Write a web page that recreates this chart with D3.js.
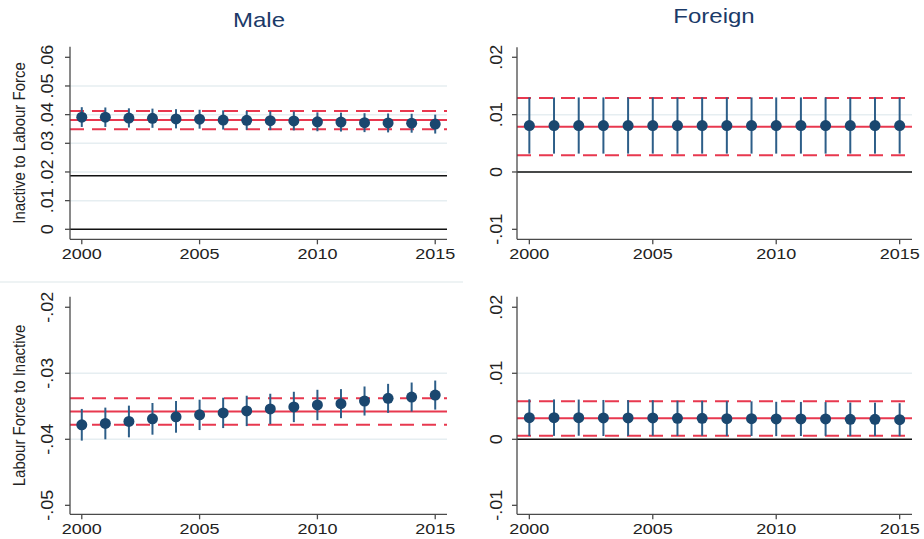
<!DOCTYPE html>
<html>
<head>
<meta charset="utf-8">
<script src="https://cdn.jsdelivr.net/npm/d3@7/dist/d3.min.js"></script>
<style>
  html, body { margin: 0; padding: 0; background: #ffffff; }
  svg { display: block; }
  text { font-family: "Liberation Sans", Arial, sans-serif; }
</style>
</head>
<body>
<svg id="chart" width="924" height="539"></svg>
<script>
// Event-study estimates by year with 95% confidence bounds
const years = [2000, 2001, 2002, 2003, 2004, 2005, 2006, 2007, 2008, 2009, 2010, 2011, 2012, 2013, 2014, 2015];
const xTicks = [2000, 2005, 2010, 2015];

const columnTitles = ["Male", "Foreign"];
const rowTitles = ["Inactive to Labour Force", "Labour Force to Inactive"];

// Inactive -> Labour Force, Male
const maleInEst = [0.0391, 0.0391, 0.0388, 0.0387, 0.0385, 0.0384, 0.0381, 0.0380, 0.0379, 0.0378, 0.0375, 0.0374, 0.0372, 0.0371, 0.0370, 0.0367];
const maleInHi  = [0.0426, 0.0425, 0.0422, 0.0421, 0.0419, 0.0417, 0.0415, 0.0413, 0.0412, 0.0411, 0.0408, 0.0407, 0.0405, 0.0404, 0.0403, 0.0400];
const maleInLo  = [0.0357, 0.0357, 0.0355, 0.0354, 0.0352, 0.0351, 0.0348, 0.0347, 0.0346, 0.0345, 0.0342, 0.0341, 0.0339, 0.0338, 0.0337, 0.0334];
const maleInBand = [0.0349, 0.0381, 0.0413];     // pooled estimate and its bounds
const maleInBlack = [0, 0.0187];
const maleInTicks = [0, 0.01, 0.02, 0.03, 0.04, 0.05, 0.06];

// Inactive -> Labour Force, Foreign
const foreignInEst = [0.0081, 0.0081, 0.0081, 0.0081, 0.0081, 0.0081, 0.0081, 0.0081, 0.0081, 0.0081, 0.0081, 0.0081, 0.0081, 0.0081, 0.0081, 0.0081];
const foreignInHi  = [0.0130, 0.0130, 0.0130, 0.0130, 0.0130, 0.0130, 0.0130, 0.0130, 0.0130, 0.0130, 0.0130, 0.0130, 0.0130, 0.0130, 0.0130, 0.0130];
const foreignInLo  = [0.0032, 0.0032, 0.0032, 0.0032, 0.0032, 0.0032, 0.0032, 0.0032, 0.0032, 0.0032, 0.0032, 0.0032, 0.0032, 0.0032, 0.0032, 0.0032];
const foreignInBand = [0.0029, 0.0079, 0.0129];
const foreignInBlack = [0];
const foreignInTicks = [-0.01, 0, 0.01, 0.02];

// Labour Force -> Inactive, Male
const maleOutEst = [-0.0378, -0.0376, -0.0373, -0.0369, -0.0366, -0.0363, -0.0360, -0.0357, -0.0354, -0.0351, -0.0348, -0.0346, -0.0342, -0.0338, -0.0336, -0.0333];
const maleOutHi  = [-0.0354, -0.0352, -0.0349, -0.0345, -0.0342, -0.0340, -0.0337, -0.0334, -0.0331, -0.0328, -0.0325, -0.0324, -0.0320, -0.0316, -0.0314, -0.0311];
const maleOutLo  = [-0.0402, -0.0400, -0.0397, -0.0393, -0.0390, -0.0386, -0.0383, -0.0380, -0.0377, -0.0374, -0.0371, -0.0368, -0.0364, -0.0360, -0.0358, -0.0355];
const maleOutBand = [-0.0378, -0.0358, -0.0338];
const maleOutBlack = [];
const maleOutTicks = [-0.05, -0.04, -0.03, -0.02];

// Labour Force -> Inactive, Foreign
const foreignOutEst = [0.00328, 0.00328, 0.00328, 0.00323, 0.00323, 0.00323, 0.00318, 0.00318, 0.00313, 0.00313, 0.00308, 0.00308, 0.00308, 0.00303, 0.00303, 0.00297];
const foreignOutHi  = [0.00606, 0.00604, 0.00602, 0.00596, 0.00594, 0.00592, 0.00585, 0.00583, 0.00577, 0.00575, 0.00568, 0.00566, 0.00564, 0.00557, 0.00555, 0.00547];
const foreignOutLo  = [0.00050, 0.00052, 0.00054, 0.00050, 0.00052, 0.00054, 0.00051, 0.00053, 0.00049, 0.00051, 0.00048, 0.00050, 0.00052, 0.00049, 0.00051, 0.00047];
const foreignOutBand = [0.00055, 0.00318, 0.00576];
const foreignOutBlack = [0];
const foreignOutTicks = [-0.01, 0, 0.01, 0.02];

// Styling
const NAVY = "#1a476f";
const BAR = "#2d5e88";
const RED = "#e8384f";
const GRID = "#e6eef1";
const AXIS = "#4a4a4a";
const TITLE = "#1b3a68";
const SX = 1.2;   // horizontal glyph stretch for horizontal text

const svg = d3.select("#chart");

// faint frame edge between the stacked left graphs
svg.append("line")
  .attr("x1", 0).attr("x2", 463).attr("y1", 282).attr("y2", 282)
  .attr("stroke", "#eef3f4").attr("stroke-width", 2);

const fmt = v => {
  if (v === 0) return "0";
  const s = d3.format(".2f")(Math.abs(v)).replace(/^0/, "");
  return (v < 0 ? "-" : "") + s;
};

const panels = [
  { est: maleInEst, hi: maleInHi, lo: maleInLo, band: maleInBand, black: maleInBlack, ticks: maleInTicks,
    xr: [70, 447], yr: [239.3, 46.7], yd: [-0.00349, 0.0637], ylab: rowTitles[0], lblOff: 17 },
  { est: foreignInEst, hi: foreignInHi, lo: foreignInLo, band: foreignInBand, black: foreignInBlack, ticks: foreignInTicks,
    xr: [517, 912], yr: [239.3, 47.3], yd: [-0.01174, 0.02174], ylab: null, lblOff: 15 },
  { est: maleOutEst, hi: maleOutHi, lo: maleOutLo, band: maleOutBand, black: maleOutBlack, ticks: maleOutTicks,
    xr: [70, 447], yr: [514.3, 296.7], yd: [-0.05136, -0.0184], ylab: rowTitles[1], lblOff: 17 },
  { est: foreignOutEst, hi: foreignOutHi, lo: foreignOutLo, band: foreignOutBand, black: foreignOutBlack, ticks: foreignOutTicks,
    xr: [517, 912], yr: [514.3, 296.7], yd: [-0.01136, 0.0216], ylab: null, lblOff: 15 }
];

panels.forEach((p, i) => {
  const x = d3.scaleLinear().domain([1999.5, 2015.5]).range(p.xr);
  const y = d3.scaleLinear().domain(p.yd).range(p.yr);
  const g = svg.append("g");
  const [x0, x1] = p.xr;
  const [yb, yt] = p.yr;

  // gridlines at interior ticks
  const inner = p.ticks.slice(1, -1);
  g.selectAll(".grid").data(inner).join("line")
    .attr("x1", x0).attr("x2", x1)
    .attr("y1", d => y(d)).attr("y2", d => y(d))
    .attr("stroke", GRID).attr("stroke-width", 1.5);

  // pooled estimate (solid) and its bounds (dashed)
  g.selectAll(".band").data(p.band).join("line")
    .attr("x1", x0).attr("x2", x1)
    .attr("y1", d => y(d)).attr("y2", d => y(d))
    .attr("stroke", RED).attr("stroke-width", 2)
    .attr("stroke-dasharray", (d, j) => j === 1 ? null : "14,8");

  // black reference lines
  g.selectAll(".ref").data(p.black).join("line")
    .attr("x1", x0).attr("x2", x1)
    .attr("y1", d => y(d)).attr("y2", d => y(d))
    .attr("stroke", "#111").attr("stroke-width", 1.6);

  // confidence intervals
  g.selectAll(".ci").data(years).join("line")
    .attr("x1", d => x(d)).attr("x2", d => x(d))
    .attr("y1", (d, j) => y(p.lo[j])).attr("y2", (d, j) => y(p.hi[j]))
    .attr("stroke", BAR).attr("stroke-width", 2);

  // point estimates
  g.selectAll(".pt").data(years).join("circle")
    .attr("cx", d => x(d)).attr("cy", (d, j) => y(p.est[j]))
    .attr("r", 5.5).attr("fill", NAVY);

  // axes
  g.append("line").attr("x1", x0).attr("x2", x0).attr("y1", yt).attr("y2", yb)
    .attr("stroke", AXIS).attr("stroke-width", 1.3);
  g.append("line").attr("x1", x0).attr("x2", x1).attr("y1", yb).attr("y2", yb)
    .attr("stroke", AXIS).attr("stroke-width", 1.3);

  // y ticks and labels (rotated)
  g.selectAll(".yt").data(p.ticks).join("line")
    .attr("x1", x0 - 5).attr("x2", x0)
    .attr("y1", d => y(d)).attr("y2", d => y(d))
    .attr("stroke", AXIS).attr("stroke-width", 1.3);
  g.selectAll(".yl").data(p.ticks).join("text")
    .attr("transform", d => `translate(${x0 - p.lblOff},${y(d)}) scale(0.9,1) rotate(-90)`)
    .attr("text-anchor", "middle")
    .attr("font-size", 18).attr("fill", "#222")
    .text(fmt);

  // x ticks and labels
  g.selectAll(".xt").data(xTicks).join("line")
    .attr("x1", d => x(d)).attr("x2", d => x(d))
    .attr("y1", yb).attr("y2", yb + 5)
    .attr("stroke", AXIS).attr("stroke-width", 1.3);
  g.selectAll(".xl").data(xTicks).join("text")
    .attr("transform", d => `translate(${x(d)},${yb + 19.7}) scale(${SX},1)`)
    .attr("text-anchor", "middle")
    .attr("font-size", 15).attr("fill", "#222")
    .text(d => d);

  // y-axis title
  if (p.ylab) {
    g.append("text")
      .attr("transform", `translate(24.5,${(yt + yb) / 2}) scale(1.1,1) rotate(-90)`)
      .attr("text-anchor", "middle")
      .attr("font-size", 15).attr("fill", "#222")
      .text(p.ylab);
  }
});

// column titles
svg.append("text")
  .attr("transform", `translate(259,26.7) scale(${SX},1)`)
  .attr("text-anchor", "middle").attr("font-size", 20).attr("fill", TITLE)
  .text(columnTitles[0]);
svg.append("text")
  .attr("transform", `translate(714,23.3) scale(${SX},1)`)
  .attr("text-anchor", "middle").attr("font-size", 20).attr("fill", TITLE)
  .text(columnTitles[1]);
</script>
</body>
</html>
